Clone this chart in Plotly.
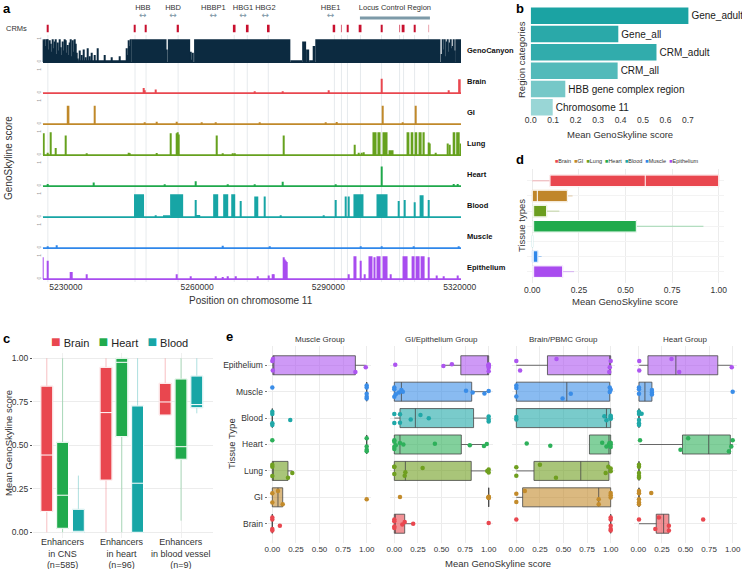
import plotly.graph_objects as go

W, H = 742, 569
FONT = "Liberation Sans, Arial, Helvetica, sans-serif"

# ---------------- panel a : tracks around the HBB locus (kb on chr11) ----------------
track_names = ["GenoCanyon", "Brain", "GI", "Lung", "Heart", "Blood", "Muscle", "Epithelium"]
track_colors = ["#0c2a40", "#e9474f", "#c0892a", "#66a11e", "#1fa84b", "#17a5a5", "#2f87ea", "#a84cef"]

geno_spike_kb = [5224.73, 5224.96, 5225.19, 5225.42, 5225.65, 5225.88, 5226.11, 5226.34, 5226.57, 5226.79,
                 5227.02, 5227.25, 5227.48, 5227.71, 5227.94, 5228.17, 5228.40, 5228.63, 5228.86, 5229.08,
                 5229.31, 5229.54, 5229.77, 5230.00, 5230.23, 5230.46, 5230.69, 5230.92, 5231.15, 5231.37,
                 5231.60, 5231.83, 5232.06, 5232.29, 5232.52, 5232.75, 5233.21, 5233.66, 5234.12, 5234.58,
                 5235.04, 5235.50, 5235.95, 5236.64, 5237.33, 5238.93, 5240.53, 5242.37, 5243.97, 5244.20,
                 5244.43, 5244.66, 5244.88, 5253.13, 5258.60, 5258.85, 5259.10, 5315.88, 5316.10, 5316.33,
                 5316.56, 5316.79, 5317.02, 5317.25, 5317.48, 5317.71, 5317.94, 5318.17, 5318.39, 5318.62,
                 5318.85]
geno_spike_val = [1.0, 0.95, 1.0, 0.7, 1.0, 1.0, 0.55, 0.95, 0.8, 0.45,
                  1.0, 0.6, 0.9, 1.0, 0.35, 0.85, 0.5, 1.0, 0.65, 0.3,
                  0.9, 0.5, 1.0, 0.95, 0.4, 0.75, 0.3, 0.85, 1.0, 0.25,
                  0.95, 0.45, 1.0, 0.8, 0.4, 0.15, 0.5, 0.3, 0.55, 0.2,
                  0.6, 0.25, 0.4, 0.3, 0.6, 0.3, 0.2, 0.25, 0.6, 0.3,
                  0.95, 0.7, 1.0, 0.55, 0.45, 0.1, 0.4, 0.35, 1.0, 0.55,
                  1.0, 0.25, 0.9, 1.0, 0.45, 0.85, 1.0, 0.6, 0.7, 1.0,
                  0.5]
geno_block_start = [5232.8, 5245.0, 5253.3, 5259.3, 5281.3, 5284.0, 5284.9, 5285.6, 5286.6, 5287.0, 5319.0]
geno_block_end = [5244.0, 5253.0, 5258.4, 5281.3, 5284.0, 5284.9, 5285.6, 5286.6, 5287.0, 5315.6, 5320.5]
geno_block_val = [0.04, 1.0, 1.0, 1.0, 0.03, 0.9, 0.55, 0.03, 0.7, 1.0, 1.0]

brain_spike_kb = [5247.86, 5248.09, 5250.61, 5273.05, 5279.46, 5290.0, 5302.14, 5317.48]
brain_spike_val = [0.22, 0.12, 0.15, 0.03, 0.03, 0.12, 0.62, 0.12]
brain_block_start = [5224.7, 5319.65]
brain_block_end = [5320.5, 5320.23]
brain_block_val = [0.02, 0.6]

gi_spike_kb = [5236.64, 5248.09, 5250.84, 5255.42, 5261.14, 5264.35, 5274.2, 5289.3, 5291.83, 5302.36, 5306.94, 5309.92]
gi_spike_val = [0.8, 0.07, 0.1, 0.1, 0.05, 0.05, 0.06, 0.03, 0.08, 0.8, 0.04, 0.8]
gi_block_start = [5224.7, 5230.2]
gi_block_end = [5320.5, 5230.8]
gi_block_val = [0.02, 0.8]

lung_spike_kb = [5225.88, 5226.57, 5227.71, 5230.0, 5234.81, 5244.43, 5244.66, 5250.84, 5254.05, 5255.42,
                 5255.65, 5255.88, 5264.58, 5265.95, 5268.2, 5268.7, 5279.69, 5295.95, 5296.87, 5297.56,
                 5298.0, 5312.9, 5313.13, 5314.5, 5317.25, 5317.71]
lung_spike_val = [0.1, 1.0, 0.3, 0.85, 0.05, 0.1, 0.06, 0.08, 0.95, 0.95,
                  1.0, 0.9, 0.85, 0.05, 0.05, 0.04, 0.85, 0.45, 0.1, 0.1,
                  0.12, 0.55, 0.5, 0.1, 0.5, 0.45]
lung_block_start = [5224.7, 5224.7, 5300.07, 5301.2, 5302.36, 5303.74, 5307.86, 5308.8, 5309.7, 5310.6, 5311.5, 5318.4, 5319.2, 5320.0]
lung_block_end = [5320.5, 5225.1, 5301.0, 5301.91, 5303.51, 5304.88, 5308.5, 5309.4, 5310.3, 5311.3, 5312.0, 5319.0, 5320.0, 5320.5]
lung_block_val = [0.02, 0.95, 1.0, 1.0, 1.0, 0.2, 1.0, 1.0, 1.0, 1.0, 1.0, 1.0, 1.0, 0.5]

heart_spike_kb = [5225.88, 5236.41, 5252.67, 5259.77, 5267.1, 5273.05, 5279.46, 5291.6, 5302.14, 5318.62, 5319.54]
heart_spike_val = [0.08, 0.15, 0.05, 0.2, 0.05, 0.04, 0.18, 0.04, 0.85, 0.08, 0.08]
heart_block_start = [5224.7]
heart_block_end = [5320.5]
heart_block_val = [0.01]

blood_spike_kb = [5250.61, 5259.77, 5269.85, 5275.34, 5279.0, 5288.85, 5291.6, 5294.0, 5294.7, 5306.03, 5307.4, 5309.69, 5312.9]
blood_spike_val = [0.05, 0.75, 0.7, 0.9, 0.04, 0.04, 0.75, 0.9, 0.9, 0.7, 0.75, 0.65, 0.75]
blood_block_start = [5224.7, 5245.57, 5252.2, 5253.82, 5259.5, 5263.66, 5265.95, 5267.79, 5273.05, 5295.72, 5300.99, 5310.84]
blood_block_end = [5320.5, 5247.86, 5253.8, 5256.8, 5260.7, 5264.81, 5267.1, 5268.7, 5273.97, 5298.01, 5303.51, 5311.75]
blood_block_val = [0.01, 1.0, 0.05, 1.0, 0.08, 1.0, 1.0, 1.0, 0.9, 1.0, 1.0, 0.95]

muscle_spike_kb = [5225.88, 5227.94, 5265.95, 5276.7, 5297.33, 5302.14, 5309.5, 5319.77]
muscle_spike_val = [0.03, 0.12, 0.1, 0.03, 0.03, 0.04, 0.03, 0.03]
muscle_block_start = [5224.7]
muscle_block_end = [5320.5]
muscle_block_val = [0.01]

epi_spike_kb = [5224.8, 5225.88, 5231.15, 5231.37, 5234.81, 5255.42, 5258.46, 5264.35, 5265.95, 5267.1,
                5268.93, 5273.74, 5276.26, 5277.17, 5277.4, 5279.69, 5279.92, 5280.15, 5280.38, 5294.58,
                5297.33, 5298.24, 5304.2, 5312.9, 5314.73, 5316.33, 5319.54]
epi_spike_val = [0.95, 0.8, 0.3, 0.3, 0.2, 0.2, 0.12, 0.12, 0.08, 0.12,
                 0.12, 0.12, 0.15, 0.2, 0.2, 0.95, 0.85, 0.8, 0.75, 0.2,
                 0.8, 0.2, 0.2, 0.95, 0.15, 0.12, 0.15]
epi_block_start = [5224.7, 5295.72, 5299.16, 5300.3, 5300.99, 5302.36, 5306.94, 5309.01, 5309.92, 5311.07]
epi_block_end = [5320.5, 5296.41, 5300.07, 5300.76, 5301.91, 5303.51, 5308.09, 5309.69, 5310.84, 5311.98]
epi_block_val = [0.01, 1.0, 1.0, 0.95, 1.0, 1.0, 1.0, 1.0, 1.0, 1.0]

tracks = {
    "GenoCanyon": (geno_spike_kb, geno_spike_val, geno_block_start, geno_block_end, geno_block_val),
    "Brain": (brain_spike_kb, brain_spike_val, brain_block_start, brain_block_end, brain_block_val),
    "GI": (gi_spike_kb, gi_spike_val, gi_block_start, gi_block_end, gi_block_val),
    "Lung": (lung_spike_kb, lung_spike_val, lung_block_start, lung_block_end, lung_block_val),
    "Heart": (heart_spike_kb, heart_spike_val, heart_block_start, heart_block_end, heart_block_val),
    "Blood": (blood_spike_kb, blood_spike_val, blood_block_start, blood_block_end, blood_block_val),
    "Muscle": (muscle_spike_kb, muscle_spike_val, muscle_block_start, muscle_block_end, muscle_block_val),
    "Epithelium": (epi_spike_kb, epi_spike_val, epi_block_start, epi_block_end, epi_block_val),
}

gene_names = ["HBB", "HBD", "HBBP1", "HBG1", "HBG2", "HBE1"]
gene_kb = [5247.6, 5254.5, 5263.7, 5270.5, 5275.6, 5290.5]
lcr_kb = [5297.2, 5313.2]

crm_kb = [5225.88, 5245.8, 5248.32, 5255.65, 5268.47, 5271.45, 5276.26, 5291.37,
          5292.98, 5294.35, 5297.33, 5302.14, 5306.26, 5307.17, 5309.69, 5312.9]
crm_len_kb = [0.3, 0.3, 0.3, 0.35, 0.6, 0.6, 0.6, 0.35, 0.25, 0.3, 0.45, 0.35, 0.25, 0.45, 0.3, 0.25]
crm_score = [1, 1, 1, 1, 1, 1, 1, 1, 0.6, 1, 1, 1, 0.6, 1, 1, 0.35]

# ---------------- panel b ----------------
b_labels = ["Gene_adult", "Gene_all", "CRM_adult", "CRM_all", "HBB gene complex region", "Chromosome 11"]
b_values = [0.702, 0.39, 0.56, 0.387, 0.154, 0.098]
b_colors = ["#1ba3a3", "#2aa9a9", "#31acac", "#52baba", "#76c8c8", "#99d6d6"]

# ---------------- panel d ----------------
d_tissues = ["Brain", "GI", "Lung", "Heart", "Blood", "Muscle", "Epithelium"]
d_colors = ["#e9474f", "#c0862a", "#6b9e1f", "#20aa4c", "#17a6a6", "#2f87ea", "#a94cef"]
d_low = [0.0, 0.0, 0.0, 0.0, 0.0, 0.0, 0.0]
d_q1 = [0.095, 0.0, 0.002, 0.002, 0.0, 0.0, 0.002]
d_median = [0.606, 0.027, 0.002, 0.004, 0.0, 0.002, 0.002]
d_q3 = [1.0, 0.188, 0.077, 0.558, 0.003, 0.03, 0.163]
d_high = [1.0, 0.216, 0.145, 0.918, 0.003, 0.05, 0.224]

# ---------------- panel c ----------------
c_groups = ["Enhancers<br>in CNS<br>(n=585)", "Enhancers<br>in heart<br>(n=96)", "Enhancers<br>in blood vessel<br>(n=9)"]
c_tissues = ["Brain", "Heart", "Blood"]
c_colors = ["#e9474f", "#20aa4c", "#17a6a6"]
c_q1 = {"Brain": [0.12, 0.30, 0.674], "Heart": [0.023, 0.55, 0.42], "Blood": [0.0, 0.0, 0.716]}
c_median = {"Brain": [0.444, 0.688, 0.749], "Heart": [0.213, 0.977, 0.492], "Blood": [0.0, 0.282, 0.734]}
c_q3 = {"Brain": [0.84, 0.948, 0.856], "Heart": [0.517, 1.0, 0.881], "Blood": [0.132, 0.726, 0.898]}
c_low = {"Brain": [0.0, 0.0, 0.674], "Heart": [0.0, 0.0, 0.067], "Blood": [0.0, 0.0, 0.684]}
c_high = {"Brain": [1.0, 1.0, 1.0], "Heart": [1.0, 1.0, 1.0], "Blood": [0.326, 1.0, 1.0]}

# ---------------- panel e ----------------
e_groups = ["Muscle Group", "GI/Epithelium Group", "Brain/PBMC Group", "Heart Group"]
e_tissues = ["Epithelium", "Muscle", "Blood", "Heart", "Lung", "GI", "Brain"]
e_colors = ["#ad55f0", "#3a8de8", "#20a8a8", "#2eb05a", "#6f9f1f", "#c38b2b", "#e9474f"]
e_q1 = [[0.006, 1, 0, 1, 0, 0, 0],
        [0.705, 0, 0.06, 0, 0, 1, 0],
        [0.33, 0, 0, 0.775, 0.187, 0.067, 1],
        [0.102, 0.007, 0.007, 0.468, 0.007, 0.007, 0.19]]
e_median = [[0.007, 1, 0, 1, 0, 0.06, 0],
            [1.0, 0.075, 0.223, 0.06, 0.117, 1, 0],
            [0.99, 0.535, 0.955, 0.982, 0.683, 0.873, 1],
            [0.398, 0.07, 0.007, 0.746, 0.007, 0.007, 0.268]]
e_q3 = [[0.88, 1, 0, 1, 0.166, 0.11, 0],
        [1.0, 0.82, 0.84, 0.71, 0.815, 1, 0.11],
        [1, 0.99, 1, 1, 0.982, 1, 1],
        [0.842, 0.144, 0.007, 0.975, 0.007, 0.007, 0.324]]
e_low = [[0, 1, 0, 1, 0, 0, 0],
         [0.52, 0, 0, 0, 0, 1, 0],
         [0, 0, 0, 0.775, 0, 0, 1],
         [0.01, 0.007, 0.007, 0.014, 0.007, 0.007, 0.007]]
e_high = [[0.99, 1, 0, 1, 0.212, 0.11, 0],
          [1.0, 1.0, 1.0, 0.98, 1.0, 1, 0.2],
          [1, 1, 1, 1, 1, 1, 1],
          [0.99, 0.144, 0.007, 1.0, 0.007, 0.007, 0.324]]
e_points = [
    [[0.0, 0.005, 0.007, 0.88, 0.99], [0.0, 1, 1, 1, 1, 1], [0, 0, 0, 0, 0.19], [0.0, 1, 1, 1, 1],
     [0, 0, 0, 0.166, 0.212], [0, 0, 0.06, 0.11, 1.0], [0, 0, 0, 0, 0.08]],
    [[0.01, 0.52, 0.61, 1, 1, 1, 1, 1, 1, 1], [0, 0, 0, 0.015, 0.05, 0.075, 0.09, 0.76, 0.83, 0.955, 1.0],
     [0, 0, 0.06, 0.06, 0.174, 0.277, 0.365, 1, 1, 1], [0, 0, 0, 0, 0.015, 0.06, 0.096, 0.43, 0.80, 0.95, 0.98],
     [0, 0, 0, 0.11, 0.117, 0.30, 0.985, 1, 1], [0.06, 1, 1, 1, 1, 1, 1], [0, 0, 0, 0, 0.085, 0.11, 0.20, 1.0]],
    [[0, 0.04, 0.426, 0.985, 0.99, 1.0], [0, 0, 0, 0.49, 0.577, 0.99, 0.99, 1.0], [0, 0, 0.933, 0.955, 1, 1, 1, 1],
     [0.11, 0.36, 0.91, 0.955, 0.98, 0.985, 1, 1, 1], [0, 0, 0.25, 0.42, 0.947, 0.975, 1, 1],
     [0, 0, 0.09, 0.873, 0.873, 1, 1, 1], [0.0, 1, 1, 1, 1, 1]],
    [[0.01, 0.01, 0.352, 0.433, 0.99], [0.007, 0.007, 0.007, 0.144, 0.144, 0.144, 1.0],
     [0.007, 0.007, 0.007, 0.007, 0.007, 0.035], [0.018, 0.447, 0.528, 0.96, 0.985, 1.0],
     [0.007, 0.007, 0.007, 0.007, 0.007], [0.007, 0.007, 0.007, 0.007, 0.007, 0.137],
     [0.007, 0.18, 0.218, 0.324, 0.324, 0.687]],
]


# %% helpers
def xr(n): return "x" if n == 1 else f"x{n}"
def yr(n): return "y" if n == 1 else f"y{n}"
def xk(n): return "xaxis" if n == 1 else f"xaxis{n}"
def yk(n): return "yaxis" if n == 1 else f"yaxis{n}"
def hdom(a, b): return [a / W, b / W]
def vdom(top, bottom): return [1 - bottom / H, 1 - top / H]


def rgba(hexcol, a):
    h = hexcol.lstrip("#")
    return f"rgba({int(h[0:2], 16)},{int(h[2:4], 16)},{int(h[4:6], 16)},{a})"


fig = go.Figure()
axes = {}
annotations = []
shapes = []


def note(text, x, y, size=9, bold=False, xanchor="center", angle=0, color="#222"):
    if bold:
        text = f"<b>{text}</b>"
    annotations.append(dict(text=text, x=x / W, y=1 - y / H, xref="paper", yref="paper",
                            showarrow=False, xanchor=xanchor, yanchor="middle", textangle=angle,
                            font=dict(size=size, color=color, family=FONT)))


def add_box(n, pos, q1, med, q3, lo, hi, fill, line_col, whisk_col, group, horizontal, width=None):
    common = dict(xaxis=xr(n), yaxis=yr(n), offsetgroup=group, whiskerwidth=0, showlegend=False,
                  hoverinfo="skip", boxpoints=False)
    if width:
        common["width"] = width
    if horizontal:
        common.update(orientation="h", y=pos)
    else:
        common.update(x=pos)
    if whisk_col:
        fig.add_trace(go.Box(q1=q1, median=med, q3=q3, lowerfence=lo, upperfence=hi,
                             fillcolor="rgba(0,0,0,0)", line=dict(color=whisk_col, width=1), **common))
        lo, hi = q1, q3
    fig.add_trace(go.Box(q1=q1, median=med, q3=q3, lowerfence=lo, upperfence=hi,
                         fillcolor=fill, line=dict(color=line_col, width=1), **common))


# %% panel a
SPIKE_KB = 0.25
X_TICKS = [5230000, 5260000, 5290000, 5320000]
for i, name in enumerate(track_names):
    n = i + 1
    col = track_colors[i]
    sk, sv, bs, be, bv = tracks[name]
    fig.add_trace(go.Bar(x=[(a + b) / 2 * 1000 for a, b in zip(bs, be)], y=bv,
                         width=[(b - a) * 1000 for a, b in zip(bs, be)],
                         marker=dict(color=col, line=dict(width=0)),
                         xaxis=xr(n), yaxis=yr(n), showlegend=False, hoverinfo="skip"))
    fig.add_trace(go.Bar(x=[k * 1000 for k in sk], y=sv, width=SPIKE_KB * 1000,
                         marker=dict(color=col, line=dict(width=0)),
                         xaxis=xr(n), yaxis=yr(n), showlegend=False, hoverinfo="skip"))
    top = 38.3 + 31.0 * i
    xa = dict(domain=hdom(42.7, 461), anchor=yr(n), showline=True, linecolor=col, linewidth=1.2,
              showgrid=False, zeroline=False, ticks="", showticklabels=(name == "Epithelium"),
              tickvals=X_TICKS, ticktext=[str(t) for t in X_TICKS],
              tickfont=dict(size=8.5, color="#333", family=FONT))
    if n == 1:
        xa["range"] = [5224700, 5320300]
    else:
        xa["matches"] = "x"
    axes[xk(n)] = xa
    axes[yk(n)] = dict(domain=vdom(top, top + 23.6), anchor=xr(n), range=[0, 1.04],
                       tickvals=[0, 1], ticktext=["0", "1"], tickangle=-90,
                       tickfont=dict(size=5, color="#999", family=FONT),
                       showgrid=False, zeroline=False, ticks="")
    note(name, 465, top + 11.8, 7.5, bold=True, xanchor="left", color="#111")

# gene row
fig.add_trace(go.Scatter(x=[k * 1000 for k in gene_kb], y=[0.64] * len(gene_kb), mode="text",
                         text=gene_names, textfont=dict(size=7.5, color="#333", family=FONT),
                         xaxis="x9", yaxis="y9", showlegend=False, cliponaxis=False, hoverinfo="skip"))
fig.add_trace(go.Scatter(x=[k * 1000 for k in gene_kb], y=[0.27] * len(gene_kb), mode="text",
                         text=["↔"] * len(gene_kb), textfont=dict(size=9, color="#7d97a6", family="DejaVu Sans"),
                         xaxis="x9", yaxis="y9", showlegend=False, cliponaxis=False, hoverinfo="skip"))
fig.add_trace(go.Scatter(x=[k * 1000 for k in lcr_kb], y=[0.18, 0.18], mode="lines",
                         line=dict(color="#7d9aa8", width=3), xaxis="x9", yaxis="y9",
                         showlegend=False, cliponaxis=False, hoverinfo="skip"))
fig.add_trace(go.Scatter(x=[sum(lcr_kb) / 2 * 1000], y=[0.64], mode="text", text=["Locus Control Region"],
                         textfont=dict(size=7.5, color="#333", family=FONT), xaxis="x9", yaxis="y9",
                         showlegend=False, cliponaxis=False, hoverinfo="skip"))
axes["xaxis9"] = dict(domain=hdom(42.7, 461), anchor="y9", matches="x", visible=False)
axes["yaxis9"] = dict(domain=vdom(0, 22), anchor="x9", range=[0, 1], visible=False)

# CRM row
fig.add_trace(go.Bar(x=[k * 1000 for k in crm_kb], y=[1] * len(crm_kb), width=[w * 1000 for w in crm_len_kb],
                     marker=dict(color=[rgba("#c8102e", s) for s in crm_score], line=dict(width=0)),
                     xaxis="x10", yaxis="y10", showlegend=False, hoverinfo="skip"))
axes["xaxis10"] = dict(domain=hdom(42.7, 461), anchor="y10", matches="x", visible=False)
axes["yaxis10"] = dict(domain=vdom(24.5, 32.5), anchor="x10", range=[0, 1], visible=False)
for k in crm_kb:
    shapes.append(dict(type="line", xref="x", yref="paper", x0=k * 1000, x1=k * 1000,
                       y0=1 - 282 / H, y1=1 - 35 / H, line=dict(color="#dfe5e9", width=0.8), layer="below"))

note("CRMs", 4, 28.5, 7.5, xanchor="left", color="#333")
note("GenoSkyline score", 8, 158, 10, angle=-90, color="#333")
note("Position on chromosome 11", 251, 300, 10, color="#333")

# %% panel b
fig.add_trace(go.Bar(x=b_values, y=b_labels, orientation="h", text=b_labels, textposition="outside",
                     textfont=dict(size=10, color="#1a1a1a", family=FONT), cliponaxis=False,
                     marker=dict(color=b_colors, line=dict(width=0)), xaxis="x11", yaxis="y11",
                     showlegend=False, hoverinfo="skip"))
axes["xaxis11"] = dict(domain=hdom(530.7, 739.6), anchor="y11", range=[0, 0.93],
                       tickvals=[0, 0.1, 0.2, 0.3, 0.4, 0.5, 0.6, 0.7],
                       ticktext=["0.0", "0.1", "0.2", "0.3", "0.4", "0.5", "0.6", "0.7"],
                       tickfont=dict(size=8.5, color="#333", family=FONT), ticks="",
                       ticklabelstandoff=-3, showgrid=False, zeroline=False)
axes["yaxis11"] = dict(domain=vdom(6.5, 116.5), anchor="x11", categoryorder="array",
                       categoryarray=b_labels[::-1], showticklabels=False, showgrid=False, zeroline=False)
note("Mean GenoSkyline score", 620, 135, 9.5, color="#333")
note("Region categories", 521, 60, 9.5, angle=-90, color="#333")

# %% panel d
for t, col, lo, q1, md, q3, hi in zip(d_tissues, d_colors, d_low, d_q1, d_median, d_q3, d_high):
    add_box(12, [t], [q1], [md], [q3], [lo], [hi], col, "white", rgba(col, 0.4), "d", True, width=0.76)
axes["xaxis12"] = dict(domain=hdom(526.7, 724.3), anchor="y12", range=[-0.03, 1.03],
                       tickvals=[0, 0.25, 0.5, 0.75, 1], ticktext=["0.00", "0.25", "0.50", "0.75", "1.00"],
                       tickfont=dict(size=8.5, color="#333", family=FONT), ticks="",
                       showgrid=True, gridcolor="#ececec", gridwidth=0.8, zeroline=False)
axes["yaxis12"] = dict(domain=vdom(169.4, 283.1), anchor="x12", categoryorder="array",
                       categoryarray=d_tissues[::-1], showticklabels=False, showgrid=True,
                       gridcolor="#f3f3f3", zeroline=False)
note("Mean GenoSkyline score", 625, 301, 9.5, color="#333")
note("Tissue types", 521, 226, 9.5, angle=-90, color="#333")
note("  ".join(f'<span style="color:{c}">■</span>{t}' for t, c in zip(d_tissues, d_colors)),
     627, 161, 5.5, color="#333")

# %% panel c
for t, col in zip(c_tissues, c_colors):
    add_box(13, c_groups, c_q1[t], c_median[t], c_q3[t], c_low[t], c_high[t],
            col, "white", rgba(col, 0.35), "c" + t, False)
axes["xaxis13"] = dict(domain=hdom(33, 213), anchor="y13", categoryorder="array", categoryarray=c_groups,
                       showticklabels=False, ticks="", showgrid=True, gridcolor="#f0f0f0", zeroline=False)
axes["yaxis13"] = dict(domain=vdom(353.1, 537.5), anchor="x13", range=[-0.03, 1.03],
                       tickvals=[0, 0.25, 0.5, 0.75, 1], ticktext=["0.00", "0.25", "0.50", "0.75", "1.00"],
                       tickfont=dict(size=8.5, color="#333", family=FONT), ticks="outside", ticklen=2,
                       tickcolor="#555", showgrid=True, gridcolor="#ececec", zeroline=False)
# category labels of panel c, placed on the category axis
for g in c_groups:
    annotations.append(dict(text=g, x=g, xref="x13", y=1 - 535 / H, yref="paper", showarrow=False,
                            xanchor="center", yanchor="top", align="center",
                            font=dict(size=9, color="#333", family=FONT)))
note("Mean GenoSkyline score", 8, 443, 9.5, angle=-90, color="#333")
note("   ".join(f'<span style="color:{c};font-size:16px">■</span> {t}' for t, c in zip(c_tissues, c_colors)),
     120, 341, 11, color="#222")

# %% panel e
for f, grp in enumerate(e_groups):
    n = 14 + f
    for j, t in enumerate(e_tissues):
        col = e_colors[j]
        add_box(n, [t], [e_q1[f][j]], [e_median[f][j]], [e_q3[f][j]], [e_low[f][j]], [e_high[f][j]],
                rgba(col, 0.6), "rgba(70,70,70,0.8)", None, "e", True, width=0.72)
        pts = e_points[f][j]
        fig.add_trace(go.Box(x=pts, y=[t] * len(pts), orientation="h", boxpoints="all", jitter=0.85,
                             pointpos=0, fillcolor="rgba(0,0,0,0)", line=dict(width=0, color="rgba(0,0,0,0)"),
                             marker=dict(color=col, size=4.5, line=dict(width=0)), width=0.72,
                             offsetgroup="e", whiskerwidth=0, xaxis=xr(n), yaxis=yr(n),
                             showlegend=False, hoverinfo="skip"))
    x0 = 267.6 + 122 * f
    axes[xk(n)] = dict(domain=hdom(x0, x0 + 103.8), anchor=yr(n), range=[-0.05, 1.05],
                       tickvals=[0, 0.25, 0.5, 0.75, 1], ticktext=["0.00", "0.25", "0.50", "0.75", "1.00"],
                       tickfont=dict(size=8, color="#333", family=FONT), ticks="",
                       showgrid=True, gridcolor="#ececec", gridwidth=0.8, zeroline=False)
    axes[yk(n)] = dict(domain=vdom(345.9, 543.1), anchor=xr(n), categoryorder="array",
                       categoryarray=e_tissues[::-1], showticklabels=(f == 0),
                       tickfont=dict(size=8.5, color="#333", family=FONT),
                       ticks="outside" if f == 0 else "", ticklen=2, tickcolor="#777",
                       showgrid=True, gridcolor="#ececec", gridwidth=0.8, zeroline=False)
    note(grp, x0 + 51.9, 339, 8, color="#333")
note("Mean GenoSkyline score", 498, 563, 9.5, color="#333")
note("Tissue Type", 231, 444, 9.5, angle=-90, color="#333")

# panel letters
for letter, x, y in [("a", 1, 8), ("b", 514, 8), ("c", 1, 338), ("d", 514, 160), ("e", 224, 336)]:
    note(letter, x, y, 13, bold=True, xanchor="left", color="#000")

fig.update_layout(
    width=W, height=H, margin=dict(l=0, r=0, t=0, b=0),
    paper_bgcolor="white", plot_bgcolor="rgba(0,0,0,0)",
    template="none", font=dict(family=FONT, color="#333"),
    barmode="overlay", bargap=0.1,
    boxmode="group", boxgap=0.2, boxgroupgap=0.25,
    showlegend=False, annotations=annotations, shapes=shapes,
    **axes,
)

# the page's default 8px body margin would push the figure off the window
fig.write_html("out.html", config={"displayModeBar": False},
               post_script="document.body.style.margin='0px';")
